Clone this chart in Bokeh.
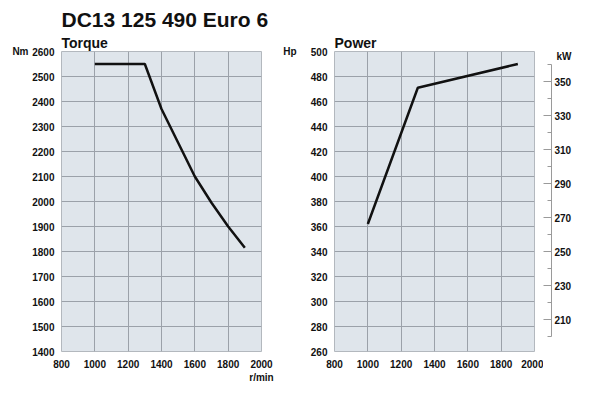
from bokeh.plotting import figure
from bokeh.layouts import row
from bokeh.models import Range1d, FixedTicker, LinearAxis, Title
from bokeh.embed import file_html
from bokeh.resources import INLINE

# ---- data ----
title_text = "DC13 125 490 Euro 6"
rpm_ticks = [800, 1000, 1200, 1400, 1600, 1800, 2000]
torque_ticks = [1400, 1500, 1600, 1700, 1800, 1900, 2000, 2100, 2200, 2300, 2400, 2500, 2600]
hp_ticks = [260, 280, 300, 320, 340, 360, 380, 400, 420, 440, 460, 480, 500]
kw_ticks = [210, 230, 250, 270, 290, 310, 330, 350]
kw_minor = [200, 220, 240, 260, 280, 300, 320, 340, 360]

rpm_torque = [1000, 1300, 1400, 1500, 1600, 1700, 1800, 1900]
torque_nm = [2550, 2550, 2370, 2235, 2100, 1995, 1900, 1815]

rpm_power = [1000, 1300, 1900]
power_hp = [362, 471, 490]

HP_PER_KW = 1.36

FONT = "Liberation Sans"
BG = "#dfe5eb"
GRID = "#9ba1a9"
OUTLINE = "#b3b8be"
INK = "#111111"
TICK_FS = "10px"

FRAME_H = 300
TOP = 51
BOTTOM = 36


def label_style(ax):
    ax.major_label_text_font = FONT
    ax.major_label_text_font_style = "bold"
    ax.major_label_text_font_size = TICK_FS
    ax.major_label_text_color = INK


def style_title(t, text, size, standoff, offset=0):
    t.text = text
    t.align = "left"
    t.offset = offset
    t.standoff = standoff
    t.text_font = FONT
    t.text_font_style = "bold"
    t.text_font_size = size
    t.text_line_height = 1.0
    t.text_color = INK


def style_chart(p, xt, yt):
    p.background_fill_color = BG
    p.outline_line_color = OUTLINE
    p.outline_line_width = 1
    p.xaxis.ticker = FixedTicker(ticks=xt)
    p.yaxis.ticker = FixedTicker(ticks=yt)
    p.xgrid.ticker = FixedTicker(ticks=xt)
    p.ygrid.ticker = FixedTicker(ticks=yt)
    p.grid.grid_line_color = GRID
    p.grid.grid_line_width = 1
    for ax in (p.xaxis[0], p.yaxis[0]):
        ax.axis_line_color = None
        ax.major_tick_in = 0
        ax.major_tick_out = 0
        ax.minor_tick_line_color = None
        label_style(ax)
    p.yaxis[0].major_label_standoff = 7
    p.xaxis[0].major_label_standoff = 8


def unit_axis(tick, text, standoff):
    ax = LinearAxis(ticker=FixedTicker(ticks=[tick]),
                    major_label_overrides={tick: text})
    ax.axis_line_color = None
    ax.major_tick_line_color = None
    ax.minor_tick_line_color = None
    ax.major_label_standoff = standoff
    label_style(ax)
    return ax


# ---- torque ----
p1 = figure(frame_width=200, frame_height=FRAME_H,
            x_range=Range1d(800, 2000), y_range=Range1d(1400, 2600),
            min_border_left=61, min_border_right=18,
            min_border_top=TOP, min_border_bottom=BOTTOM,
            toolbar_location=None, output_backend="svg")
style_chart(p1, rpm_ticks, torque_ticks)
p1.line(rpm_torque, torque_nm, line_color=INK, line_width=2.5)
style_title(p1.title, title_text, "21px", 4)          # outermost title
sub = Title()
style_title(sub, "Torque", "14px", 1)                 # next to the frame
p1.add_layout(sub, "above")
p1.add_layout(unit_axis(torque_ticks[-1], "Nm", -5), "left")
p1.add_layout(unit_axis(rpm_ticks[-1], "r/min", -5), "below")

# ---- power ----
p2 = figure(frame_width=200, frame_height=FRAME_H,
            x_range=Range1d(800, 2000), y_range=Range1d(260, 500),
            min_border_left=55, min_border_right=9,
            min_border_top=TOP, min_border_bottom=BOTTOM,
            toolbar_location=None, output_backend="svg")
style_chart(p2, rpm_ticks, hp_ticks)
p2.line(rpm_power, power_hp, line_color=INK, line_width=2.5)
style_title(p2.title, "Power", "14px", 1)
p2.add_layout(unit_axis(hp_ticks[-1], "Hp", 5), "left")

# ---- kW scale (same vertical scale as the Hp axis) ----
p3 = figure(frame_width=8, frame_height=FRAME_H,
            x_range=Range1d(0, 1),
            y_range=Range1d(hp_ticks[0] / HP_PER_KW, hp_ticks[-1] / HP_PER_KW),
            x_axis_location=None, y_axis_location="right",
            min_border_left=0, min_border_right=36,
            min_border_top=TOP, min_border_bottom=BOTTOM,
            toolbar_location=None, output_backend="svg")
p3.grid.visible = False
p3.outline_line_color = None
p3.background_fill_color = None
ax = p3.yaxis[0]
ax.ticker = FixedTicker(ticks=kw_ticks, minor_ticks=kw_minor)
ax.bounds = (kw_minor[0], kw_minor[-1])
ax.axis_line_color = "#9a9a9a"
ax.major_tick_line_color = "#9a9a9a"
ax.minor_tick_line_color = "#9a9a9a"
ax.major_tick_in = 8
ax.major_tick_out = 0
ax.minor_tick_in = 4
ax.minor_tick_out = 0
ax.major_label_standoff = 3
label_style(ax)
style_title(p3.title, "kW", TICK_FS, -20, offset=13)

layout = row(p1, p2, p3)
open("out.html", "w").write(file_html(layout, INLINE, title=title_text))
